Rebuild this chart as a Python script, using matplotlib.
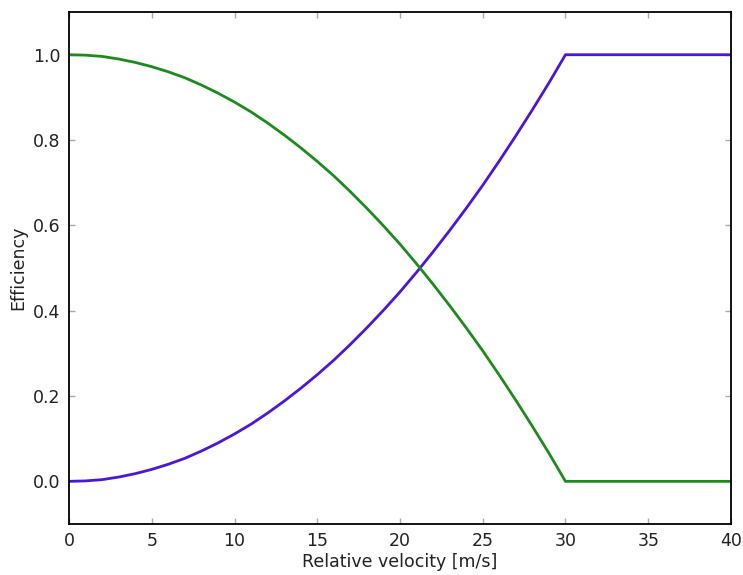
import matplotlib
matplotlib.use("Agg")
import matplotlib.pyplot as plt

velocity = [0, 1, 2, 3, 4, 5, 6, 7, 8, 9, 10, 11, 12, 13, 14, 15, 16, 17, 18, 19,
            20, 21, 22, 23, 24, 25, 26, 27, 28, 29, 30, 40]
blue_eff = [0.000, 0.001, 0.004, 0.010, 0.018, 0.028, 0.040, 0.054, 0.071, 0.090,
            0.111, 0.134, 0.160, 0.188, 0.218, 0.250, 0.284, 0.321, 0.360, 0.401,
            0.444, 0.490, 0.538, 0.588, 0.640, 0.694, 0.751, 0.810, 0.871, 0.934,
            1.000, 1.000]
green_eff = [1.000, 0.999, 0.996, 0.990, 0.982, 0.972, 0.960, 0.946, 0.929, 0.910,
             0.889, 0.866, 0.840, 0.812, 0.782, 0.750, 0.716, 0.679, 0.640, 0.599,
             0.556, 0.510, 0.462, 0.412, 0.360, 0.306, 0.249, 0.190, 0.129, 0.066,
             0.000, 0.000]
xticks = [0, 5, 10, 15, 20, 25, 30, 35, 40]
yticks = [0.0, 0.2, 0.4, 0.6, 0.8, 1.0]

plt.rcParams['font.family'] = ['DejaVu Sans']
fig = plt.figure(figsize=(7.43, 5.75), dpi=100)
ax = fig.add_axes([0.0929, 0.0887, 0.8909, 0.8903])

ax.plot(velocity, blue_eff, color='#4a16d8', lw=2.0, solid_joinstyle='miter')
ax.plot(velocity, green_eff, color='#1e8a1e', lw=2.0, solid_joinstyle='miter')

ax.set_xlim(0, 40)
ax.set_ylim(-0.1, 1.1)
ax.set_xticks(xticks)
ax.set_xticklabels([str(t) for t in xticks])
ax.set_yticks(yticks)
ax.set_yticklabels([f"{t:.1f}" for t in yticks])
ax.tick_params(direction='in', length=4, width=1, color='#aaaaaa',
               top=True, right=True, labelsize=12.5, labelcolor='#222222', pad=6)
for s in ax.spines.values():
    s.set_linewidth(1.3)
    s.set_color('black')
ax.set_xlabel('Relative velocity [m/s]', fontsize=12.5, color='#222222', labelpad=2)
ax.set_ylabel('Efficiency', fontsize=12.5, color='#222222', labelpad=4)

fig.savefig('out.png', dpi=100, facecolor='white')
